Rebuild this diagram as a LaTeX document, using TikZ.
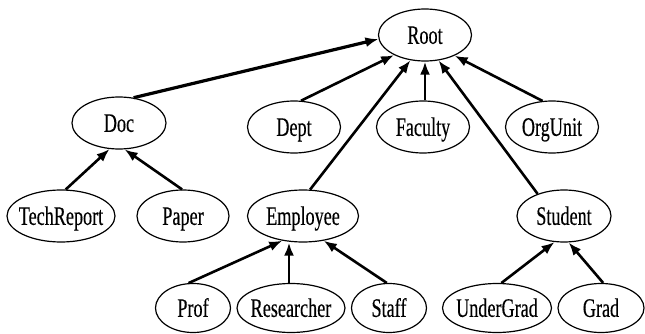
\documentclass[tikz,border=0pt]{standalone}
\usepackage{fontspec}
\setmainfont{Liberation Serif}[FakeStretch=0.68,FakeBold=0.3]
\usetikzlibrary{shapes.geometric,arrows.meta}
\begin{document}
\begin{tikzpicture}[x=1pt,y=-1pt,
  ent/.style={ellipse,draw,line width=1.2pt,inner sep=0pt,minimum height=52pt,
    text height=17.7pt,text depth=0pt,font=\fontsize{26.7}{30}\selectfont},
  isa/.style={-{Latex[length=13pt,width=10pt]},line width=2.6pt}]
\useasboundingbox (0,0) rectangle (645,334);
% row 1
\node[ent,minimum width=93pt] (root) at (425,35) {\makebox[0pt]{Root}};
% row 2
\node[ent,minimum width=94pt] (doc) at (119,123) {\makebox[0pt]{Doc}};
\node[ent,minimum width=93pt] (dept) at (294,127) {\makebox[0pt]{Dept}};
\node[ent,minimum width=93pt] (fac) at (423,127) {\makebox[0pt]{Faculty}};
\node[ent,minimum width=93pt] (org) at (552,127) {\makebox[0pt]{OrgUnit}};
% row 3
\node[ent,minimum width=108pt] (tech) at (61,216) {\makebox[0pt]{TechReport}};
\node[ent,minimum width=92pt] (paper) at (183,216) {\makebox[0pt]{Paper}};
\node[ent,minimum width=111pt] (emp) at (303,216) {\makebox[0pt]{Employee}};
\node[ent,minimum width=94pt] (stu) at (564,216) {\makebox[0pt]{Student}};
% row 4
\node[ent,minimum width=75pt,minimum height=49pt] (prof) at (193,308) {\makebox[0pt]{Prof}};
\node[ent,minimum width=108pt,minimum height=49pt] (res) at (291,308) {\makebox[0pt]{Researcher}};
\node[ent,minimum width=75pt,minimum height=49pt] (staff) at (389,308) {\makebox[0pt]{Staff}};
\node[ent,minimum width=109pt,minimum height=49pt] (ug) at (497,308) {\makebox[0pt]{UnderGrad}};
\node[ent,minimum width=86pt,minimum height=49pt] (grad) at (601,308) {\makebox[0pt]{Grad}};
% connectors
\draw[isa,line width=3.2pt] (doc.60) -- (root.185);
\draw[isa] (dept.75) -- (root.213);
\draw[isa] (emp.75) -- (root.240);
\draw[isa] (root.south |- fac.north) -- (root.south);
\draw[isa] (stu.140) -- (root.-62);
\draw[isa] (org.110) -- (root.-35);
\draw[isa] (tech.80) -- (doc.250);
\draw[isa] (paper.92) -- (doc.282);
\draw[isa] (prof.100) -- (emp.230);
\coordinate (resTop) at ([xshift=-2pt]res.north);
\draw[isa] (resTop) -- (resTop |- emp.south);
\draw[isa] (staff.95) -- (emp.-50);
\draw[isa] (ug.80) -- (stu.250);
\draw[isa] (grad.85) -- (stu.280);
\end{tikzpicture}
\end{document}
